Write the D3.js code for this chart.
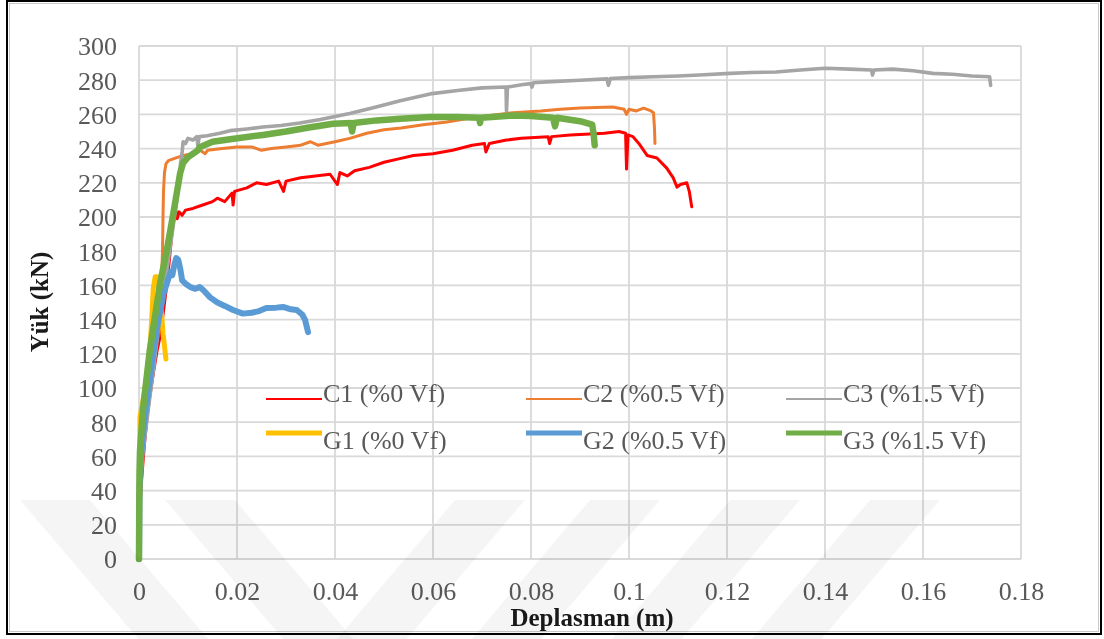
<!DOCTYPE html>
<html>
<head>
<meta charset="utf-8">
<script src="https://cdn.jsdelivr.net/npm/d3@7"></script>
<style>
  html, body { margin: 0; padding: 0; background: #fff; }
  svg { display: block; }
  text { font-family: "Liberation Serif", "Times New Roman", serif; }
</style>
</head>
<body>
<svg id="chart" width="1104" height="639"></svg>
<script>
// Load–displacement curves (displacement in m, load in kN)
const seriesNames = ["C1 (%0 Vf)", "C2 (%0.5 Vf)", "C3 (%1.5 Vf)", "G1 (%0 Vf)", "G2 (%0.5 Vf)", "G3 (%1.5 Vf)"];
const seriesColors = ["#ff0000", "#ed7d31", "#a5a5a5", "#ffc000", "#5b9bd5", "#70ad47"];

const c1 = [[0,0],[0.0002,30],[0.0005,45],[0.0008,56],[0.0012,70],[0.0016,82],[0.0022,95],[0.003,110],[0.0037,122],[0.0043,130],[0.005,145],[0.0057,161],[0.0062,175],[0.0067,190],[0.0072,200],[0.0075,204],[0.0078,199],[0.0082,203],[0.0088,201],[0.0095,204],[0.011,205],[0.013,207],[0.015,209],[0.016,211],[0.0175,209],[0.019,214],[0.0192,207],[0.0195,215],[0.022,217],[0.024,220],[0.026,219],[0.0285,221],[0.0295,215],[0.03,221],[0.033,223],[0.036,224],[0.039,225],[0.0405,219],[0.041,226],[0.0425,224],[0.044,227],[0.047,229],[0.05,232],[0.053,234],[0.056,236],[0.06,237],[0.064,239],[0.068,242],[0.0705,243],[0.0708,238],[0.0715,243],[0.075,245],[0.078,246],[0.0835,247],[0.0838,243],[0.0842,247],[0.088,248],[0.092,248.5],[0.095,249],[0.098,250],[0.0993,249],[0.0995,228],[0.0998,248],[0.1008,247],[0.102,243],[0.1037,236],[0.1057,234.5],[0.1077,228.6],[0.109,223],[0.1098,217.5],[0.1105,219],[0.1118,220],[0.1123,215],[0.1128,206]];

const c2 = [[0,0],[0.0003,45],[0.001,70],[0.002,95],[0.003,120],[0.004,145],[0.0046,165],[0.0048,180],[0.0049,200],[0.005,215],[0.0052,226],[0.0055,231],[0.006,233],[0.007,234],[0.009,236],[0.011,237],[0.0125,239],[0.0135,237],[0.014,239],[0.017,240],[0.02,241],[0.023,241],[0.025,239],[0.027,240],[0.03,241],[0.033,242],[0.035,244],[0.0365,242],[0.04,244],[0.043,246],[0.0465,249],[0.05,251],[0.0535,252],[0.058,254],[0.0628,255.6],[0.068,258],[0.0763,261],[0.082,262],[0.086,263],[0.09,263.7],[0.0967,264.3],[0.099,263],[0.0995,260],[0.1,263],[0.1015,262],[0.103,263.7],[0.1045,262],[0.105,261],[0.1052,252],[0.1053,243]];

const c3 = [[0,0],[0.0002,40],[0.0008,62],[0.002,90],[0.003,112],[0.004,135],[0.005,155],[0.006,175],[0.007,195],[0.0078,212],[0.0082,222],[0.0085,232],[0.0088,238],[0.009,244],[0.0095,243],[0.01,246],[0.011,245],[0.0118,247],[0.012,242],[0.0123,247],[0.0139,247.5],[0.0165,249],[0.0186,250.5],[0.022,251.5],[0.0253,252.6],[0.029,253.5],[0.0328,255],[0.037,257],[0.043,260.5],[0.048,264],[0.0533,268],[0.0594,272],[0.065,274],[0.07,275.5],[0.0749,276],[0.075,262],[0.0752,276],[0.0784,277.5],[0.08,278],[0.0802,276],[0.0805,278.5],[0.0832,279],[0.09,280],[0.0955,280.8],[0.0958,277],[0.0962,281],[0.1,281.5],[0.105,282],[0.11,282.5],[0.1144,283],[0.1206,284],[0.125,284.5],[0.13,284.8],[0.135,286],[0.14,287],[0.145,286.5],[0.1495,286],[0.1497,283],[0.15,286],[0.1538,286.5],[0.158,285.5],[0.162,284],[0.166,283.5],[0.17,282.5],[0.1736,282],[0.1738,277]];

const g1 = [[0,0],[0.0001,40],[0.0002,83],[0.0012,99],[0.0022,122],[0.0026,140],[0.0029,158],[0.0033,165],[0.0037,165],[0.004,158],[0.0043,151],[0.0047,140],[0.0049,132],[0.0053,122],[0.0055,117]];

const g2 = [[0,0],[0.0001,40],[0.0004,60],[0.001,78],[0.002,100],[0.003,122],[0.004,140],[0.005,155],[0.006,164],[0.0065,168],[0.0068,166],[0.0072,172],[0.0076,176],[0.008,175],[0.0084,170],[0.0088,163],[0.0095,161],[0.0105,159],[0.0115,158],[0.0124,159],[0.0132,157],[0.0145,153],[0.016,150],[0.0175,148],[0.0192,145.6],[0.0212,143.5],[0.023,144],[0.0245,145],[0.026,146.8],[0.028,147],[0.0294,147.4],[0.031,146],[0.0322,145.6],[0.0333,143],[0.0339,139.8],[0.0345,132.7]];

const g3 = [[0,0],[0.00005,30],[0.0001,50],[0.0002,63],[0.0008,87],[0.0022,122],[0.0043,161],[0.0057,181],[0.007,202],[0.0084,225.7],[0.009,231.6],[0.01,235],[0.0118,238.5],[0.0125,241],[0.015,244],[0.0186,245.5],[0.0253,248],[0.03,250],[0.035,252.5],[0.0396,254.5],[0.0432,255],[0.0435,250],[0.0438,255],[0.0485,256.5],[0.0533,257.5],[0.0594,258.5],[0.065,258.5],[0.0694,258],[0.0696,255],[0.0698,258],[0.0763,259.3],[0.08,259],[0.0845,258],[0.0849,253],[0.0853,258],[0.09,256],[0.0925,254],[0.0928,248],[0.093,242]];

const xTicks = [0, 0.02, 0.04, 0.06, 0.08, 0.1, 0.12, 0.14, 0.16, 0.18];
const yTicks = [0, 20, 40, 60, 80, 100, 120, 140, 160, 180, 200, 220, 240, 260, 280, 300];

const allSeries = [c1, c2, c3, g1, g2, g3];
const strokeWidths = [3, 3, 3.6, 5, 6, 6.5];
const legendWidths = [2.2, 2.2, 2.2, 5, 5, 5];

const svg = d3.select("#chart");
const x = d3.scaleLinear().domain([0, 0.18]).range([139, 1021]);
const y = d3.scaleLinear().domain([0, 300]).range([559, 46]);

// grid
const grid = svg.append("g");
grid.selectAll("line.h").data(yTicks).join("line")
  .attr("x1", x(0)).attr("x2", x(0.18))
  .attr("y1", d => y(d)).attr("y2", d => y(d))
  .attr("stroke", "#d9d9d9").attr("stroke-width", 1.8);
grid.selectAll("line.v").data(xTicks).join("line")
  .attr("y1", y(0)).attr("y2", y(300))
  .attr("x1", d => x(d)).attr("x2", d => x(d))
  .attr("stroke", "#d9d9d9").attr("stroke-width", 1.8);

// axes (labels only, Excel style)
const yAxis = svg.append("g").attr("transform", `translate(${x(0) - 22},0)`)
  .call(d3.axisLeft(y).tickValues(yTicks).tickSize(0).tickPadding(0).tickFormat(d3.format("d")));
yAxis.select(".domain").remove();
yAxis.selectAll("text").attr("font-family", "Liberation Serif").attr("font-size", 26)
  .attr("fill", "#595959").attr("dy", "0.34em");

const xAxis = svg.append("g").attr("transform", `translate(0,${y(0) + 23})`)
  .call(d3.axisBottom(x).tickValues(xTicks).tickSize(0).tickPadding(0).tickFormat(d => String(d)));
xAxis.select(".domain").remove();
xAxis.selectAll("text").attr("font-family", "Liberation Serif").attr("font-size", 26)
  .attr("fill", "#595959").attr("dy", "0.71em");

// axis titles
svg.append("text").attr("x", 592).attr("y", 626).attr("text-anchor", "middle")
  .attr("font-size", 25).attr("font-weight", "bold").attr("fill", "#1a1a1a").text("Deplasman (m)");
svg.append("text").attr("transform", "translate(48,302) rotate(-90)").attr("text-anchor", "middle")
  .attr("font-size", 25).attr("font-weight", "bold").attr("fill", "#1a1a1a").text("Yük (kN)");

// legend (two rows, three columns, drawn over the plot area)
const legendCols = [266, 526, 786];
const legendRows = [{ line: 399, text: 402 }, { line: 433, text: 449 }];
const legend = svg.append("g");
seriesNames.forEach((name, i) => {
  const col = legendCols[i % 3], row = legendRows[Math.floor(i / 3)];
  legend.append("line").attr("x1", col).attr("x2", col + 56)
    .attr("y1", row.line).attr("y2", row.line)
    .attr("stroke", seriesColors[i]).attr("stroke-width", legendWidths[i]);
  legend.append("text").attr("x", col + 57).attr("y", row.text)
    .attr("font-size", 26).attr("fill", "#595959").text(name);
});

// curves
const line = d3.line().x(d => x(d[0])).y(d => y(d[1]));
svg.append("g").selectAll("path").data(allSeries).join("path")
  .attr("d", line).attr("fill", "none")
  .attr("stroke", (d, i) => seriesColors[i])
  .attr("stroke-width", (d, i) => strokeWidths[i])
  .attr("stroke-linejoin", "round").attr("stroke-linecap", "round");

// frame
svg.append("rect").attr("x", 7).attr("y", 1).attr("width", 1094).attr("height", 633)
  .attr("fill", "none").attr("stroke", "#000").attr("stroke-width", 2);
svg.append("rect").attr("x", 9.5).attr("y", 3.5).attr("width", 1089).attr("height", 628)
  .attr("fill", "none").attr("stroke", "#bbb").attr("stroke-width", 0.8);

// faint chevron watermark along the bottom edge
const mark = svg.append("g").attr("fill", "#000").attr("fill-opacity", 0.04).style("mix-blend-mode", "multiply");
const bandW = 70, markTop = 500, markBottom = 639, run = 0.85 * (markBottom - markTop);
[20, 165].forEach(x0 => mark.append("polygon")
  .attr("points", [[x0, markTop], [x0 + bandW, markTop], [x0 + bandW + run, markBottom], [x0 + run, markBottom]].join(" ")));
[455, 590, 730, 870].forEach(x0 => mark.append("polygon")
  .attr("points", [[x0, markTop], [x0 + bandW, markTop], [x0 + bandW - run, markBottom], [x0 - run, markBottom]].join(" ")));
</script>
</body>
</html>
